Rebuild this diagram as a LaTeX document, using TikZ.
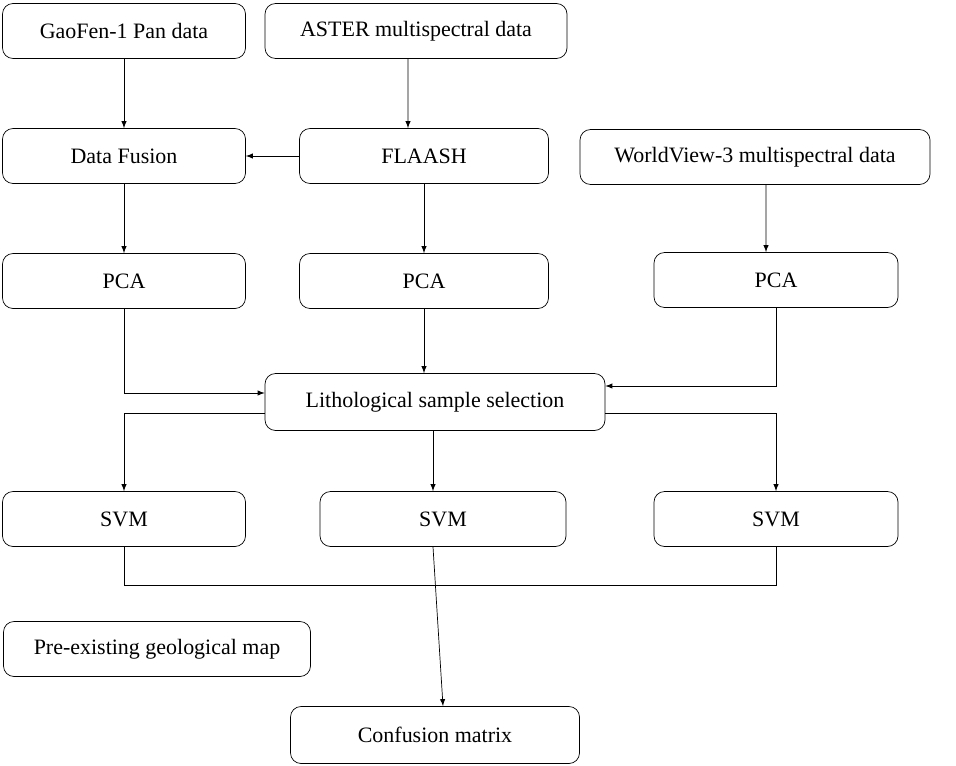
\documentclass[tikz,border=0pt]{standalone}
\usepackage{fontspec}
\setmainfont{Liberation Serif}
\usetikzlibrary{arrows}
\tikzstyle{stage}=[draw, rounded corners=6pt, minimum height=1.1cm, inner sep=2pt, font=\fontsize{12.5}{14}\selectfont]
\tikzstyle{flow}=[->, >=latex]
\begin{document}
\begin{tikzpicture}
	\useasboundingbox (0,0) rectangle (19.12,-15.3);
	\node[stage, minimum width=4.86cm] (gaofen) at (2.48,-0.62) {GaoFen-1 Pan data};
	\node[stage, minimum width=6.04cm] (aster) at (8.32,-0.62) {ASTER multispectral data};
	\node[stage, minimum width=4.86cm] (fusion) at (2.48,-3.12) {Data Fusion};
	\node[stage, minimum width=4.98cm] (flaash) at (8.48,-3.12) {FLAASH};
	\node[stage, minimum width=7.0cm] (wv) at (15.1,-3.14) {WorldView-3 multispectral data};
	\node[stage, minimum width=4.86cm] (pcaA) at (2.48,-5.62) {PCA};
	\node[stage, minimum width=4.98cm] (pcaB) at (8.48,-5.62) {PCA};
	\node[stage, minimum width=4.88cm] (pcaC) at (15.52,-5.6) {PCA};
	\node[stage, minimum width=6.8cm, minimum height=1.14cm] (litho) at (8.7,-8.04) {Lithological sample selection};
	\node[stage, minimum width=4.86cm] (svmA) at (2.48,-10.38) {SVM};
	\node[stage, minimum width=4.92cm] (svmB) at (8.86,-10.38) {SVM};
	\node[stage, minimum width=4.88cm] (svmC) at (15.52,-10.38) {SVM};
	\node[stage, minimum width=6.14cm] (geomap) at (3.14,-12.98) {Pre-existing geological map};
	\node[stage, minimum width=5.78cm, minimum height=1.14cm] (confusion) at (8.7,-14.7) {Confusion matrix};
%
	\draw[flow] (gaofen) -- (fusion);
	\draw[flow] ([xshift=-0.16cm]aster.south) -- ([xshift=-0.32cm]flaash.north);
	\draw[flow] (flaash) -- (fusion);
	\draw[flow] (fusion) -- (pcaA);
	\draw[flow] (flaash) -- (pcaB);
	\draw[flow] ([xshift=0.22cm]wv.south) -- ([xshift=-0.2cm]pcaC.north);
%
	\draw[flow] (pcaA.south) |- ([yshift=0.18cm]litho.west);
	\draw[flow] (pcaB.south) -- (pcaB.south |- litho.north);
	\draw[flow] (pcaC.south) |- ([yshift=0.32cm]litho.east);
%
	\draw[flow] ([yshift=-0.22cm]litho.west) -| (svmA.north);
	\draw[flow] ([xshift=-0.04cm]litho.south) -- ([xshift=-0.2cm]svmB.north);
	\draw[flow] ([yshift=-0.22cm]litho.east) -| (svmC.north);
%
	\draw (svmA.south) -- ++(0,-0.76) -| (svmC.south);
	\coordinate (join) at ([xshift=-0.2cm]svmB.south);
	\draw[flow] (join) -- ([xshift=0.16cm]confusion.north);
\end{tikzpicture}
\end{document}
